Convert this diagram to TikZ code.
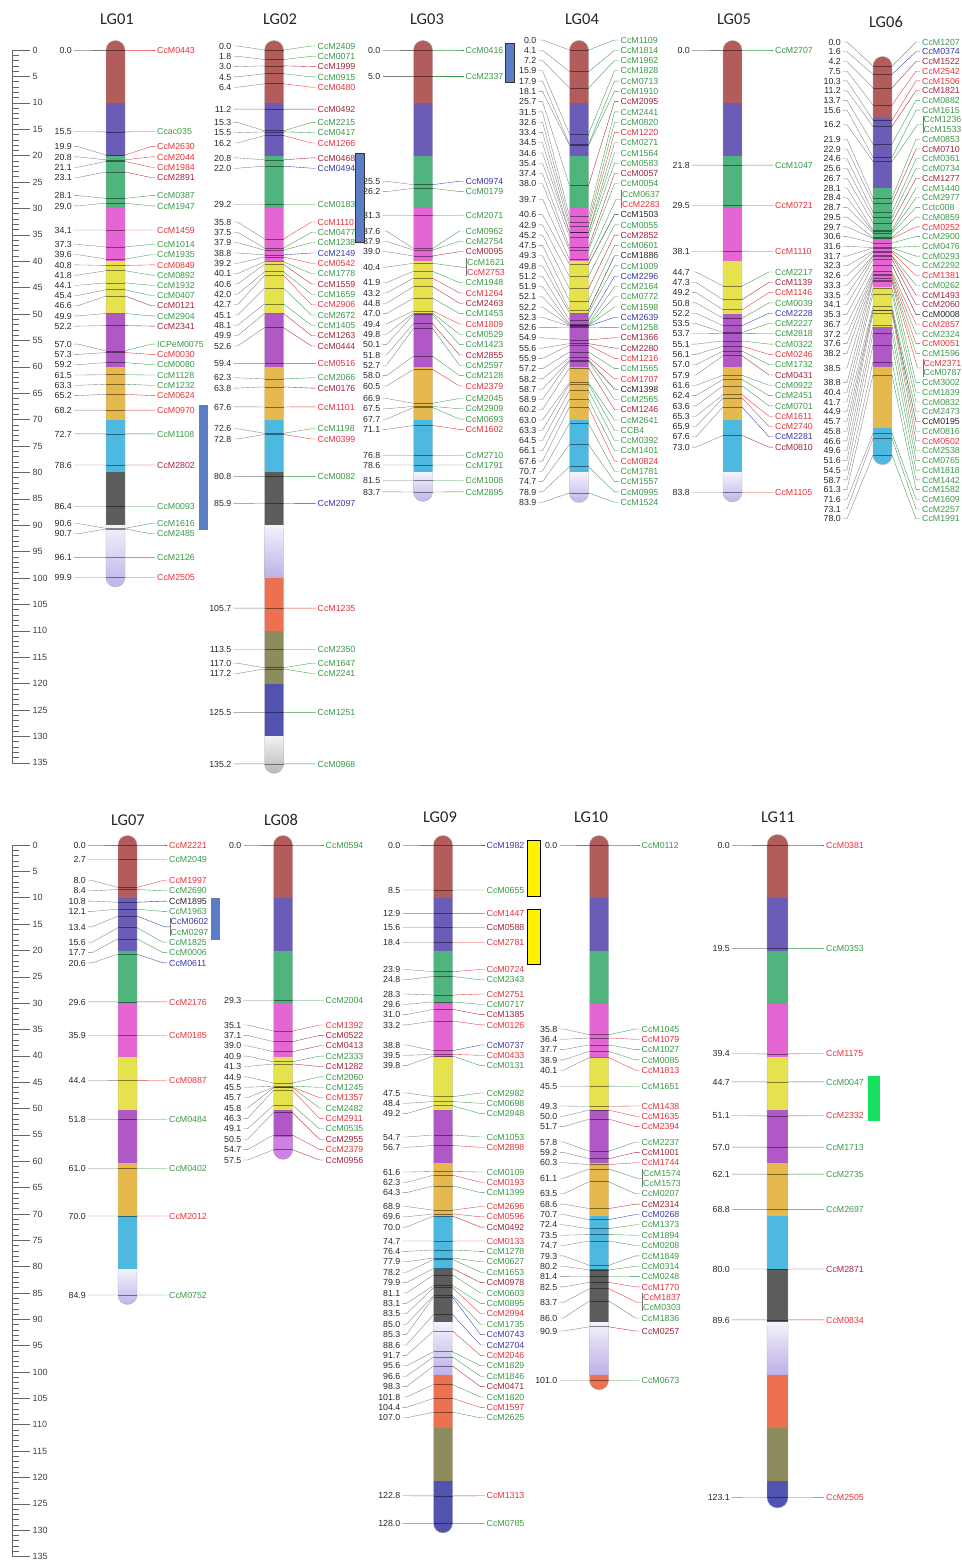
\documentclass[tikz,border=0pt]{standalone}
\usepackage{fontspec}
\setmainfont{Liberation Sans}
\newfontfamily\titlefam{Carlito}
\usetikzlibrary{calc}

% bin colours of the chromosome bars (one colour per 10 cM)
\definecolor{cbrn}{HTML}{B35C5C}
\definecolor{cplum}{HTML}{6B5CB8}
\definecolor{cgrn}{HTML}{4FB47E}
\definecolor{cpnk}{HTML}{E466D4}
\definecolor{cyel}{HTML}{E6E24E}
\definecolor{cvio}{HTML}{B058C6}
\definecolor{cgld}{HTML}{E5B94E}
\definecolor{ccyn}{HTML}{4EB9E0}
\definecolor{cdrk}{HTML}{5C5C5C}
\definecolor{clavt}{HTML}{F4F2FB}
\definecolor{clavb}{HTML}{BDB0EA}
\definecolor{corn}{HTML}{EC7150}
\definecolor{colv}{HTML}{8C8C5E}
\definecolor{cblu}{HTML}{5252B0}
\definecolor{clgt}{HTML}{F2F2F2}
\definecolor{clgb}{HTML}{B5B5B5}
\definecolor{clvio}{HTML}{CC82E0}
% marker name colours
\definecolor{mkg}{HTML}{3B9A47}
\definecolor{mkr}{HTML}{E8333A}
\definecolor{mkd}{HTML}{A3263C}
\definecolor{mkb}{HTML}{3A3AAA}
\definecolor{mkk}{HTML}{2A2A2A}
% side boxes
\definecolor{cbox}{HTML}{5B7DC6}
\definecolor{cgbox}{HTML}{18E060}

\newcommand\lblsize{\fontsize{8.8}{9}\selectfont}

\tikzset{
  num/.style={font=\lblsize, anchor=east, inner sep=0.5pt, text=black!85,
    text height=6.3pt, text depth=0pt},
  mkname/.style={font=\lblsize, anchor=west, inner sep=0.5pt,
    text height=6.3pt, text depth=0pt},
  lead/.style={line width=0.35pt},
  tick/.style={black, opacity=0.45, line width=0.6pt},
  bar edge/.style={black!30, line width=0.4pt},
  title/.style={font=\titlefam\fontsize{16.5}{18}\selectfont, text=black!85},
  ruler/.style={black!60, line width=0.5pt},
  rulenum/.style={font=\fontsize{9}{10}\selectfont, anchor=west, inner sep=0.5pt, text=black!75},
  brn/.style={fill=cbrn}, plum/.style={fill=cplum}, grn/.style={fill=cgrn},
  pnk/.style={fill=cpnk}, yel/.style={fill=cyel}, vio/.style={fill=cvio},
  gld/.style={fill=cgld}, cyn/.style={fill=ccyn}, drk/.style={fill=cdrk},
  lav/.style={top color=clavt, bottom color=clavb}, orn/.style={fill=corn},
  olv/.style={fill=colv}, blu/.style={fill=cblu},
  lgry/.style={top color=clgt, bottom color=clgb}, lvio/.style={fill=clvio},
}

% bar position of a marker
\newcommand\setby[1]{\pgfmathsetmacro\by{\yz+\kk*#1}}

% chromosome bar: #1 bin styles, #2 length in cM
\newcommand\chrom[2]{%
  \pgfmathsetmacro\ybot{\yz+\kk*#2}%
  \pgfmathtruncatemacro\jl{#2/10}%
  \begin{scope}
    \clip[rounded corners=\hw pt] (\cx-\hw,\yz-\hw) rectangle (\cx+\hw,\ybot+\hw);
    \foreach \sg [count=\jj from 0] in {#1} {
      \pgfmathsetmacro\ya{\jj==0 ? \yz-\hw-2 : \yz+\kk*10*\jj}
      \pgfmathsetmacro\yb{\jj==\jl ? \ybot+\hw+2 : \yz+\kk*10*(\jj+1)}
      \edef\tmp{\noexpand\path[\sg] (\cx-\hw-1,\ya) rectangle (\cx+\hw+1,\yb);}\tmp
    }
  \end{scope}
  \draw[bar edge, rounded corners=\hw pt] (\cx-\hw,\yz-\hw) rectangle (\cx+\hw,\ybot+\hw);
}

% one marker: position, label y, name, colour, index
\newcommand\drawmk[5]{%
  \setby{#1}%
  \coordinate (bl\gid-#5) at (\cx-\hw,\by);
  \coordinate (br\gid-#5) at (\cx+\hw,\by);
  \draw[tick] (bl\gid-#5) -- (br\gid-#5);
  \node[num] (n\gid-#5) at (\cx-\dl,#2) {#1};
  \node[mkname, text=mk#4] (m\gid-#5) at (\cx+\dr,#2) {#3};
  \draw[lead, black!50] ([xshift=1.5pt]n\gid-#5.east) -- ++(4,0) -- (bl\gid-#5);
  \draw[lead, mk#4] (br\gid-#5) -- ([xshift=-5.5pt]m\gid-#5.west) -- ([xshift=-1.5pt]m\gid-#5.west);
}

% two markers at one position: id, position, y1, name1, colour1, y2, name2, colour2
\newcommand\drawpair[8]{%
  \setby{#2}%
  \pgfmathsetmacro\ym{(#3+#6)/2}%
  \coordinate (bl\gid-#1) at (\cx-\hw,\by);
  \coordinate (br\gid-#1) at (\cx+\hw,\by);
  \coordinate (k\gid-#1) at (\cx+\dr+1.5,\ym);
  \draw[tick] (bl\gid-#1) -- (br\gid-#1);
  \node[num] (n\gid-#1) at (\cx-\dl,\ym) {#2};
  \node[mkname, text=mk#5] (m\gid-#1a) at (\cx+\dr+1.5,#3) {#4};
  \node[mkname, text=mk#8] (m\gid-#1b) at (\cx+\dr+1.5,#6) {#7};
  \draw[lead, black!50] ([xshift=1.5pt]n\gid-#1.east) -- ++(4,0) -- (bl\gid-#1);
  \draw[lead, mk#5] (br\gid-#1) -- ([xshift=-5.5pt]k\gid-#1) -- (k\gid-#1);
  \draw[lead, black!55] (m\gid-#1a.north west) -- (m\gid-#1b.south west);
}

\begin{document}
\begin{tikzpicture}[x=1pt,y=-1pt]
  \clip (0,0) rectangle (961,1565);
  \fill[white] (0,0) rectangle (961,1565);

  % scale bars, top and bottom row
  \foreach \yo/\ks/\r in {50/5.28/a, 845/5.27/b} {
    \draw[ruler] (12,\yo) -- (12,{\yo+\ks*135});
    \foreach \t in {0,...,135} {\draw[ruler] (12,{\yo+\ks*\t}) -- ++(7,0);}
    \foreach \t in {0,5,...,135} {
      \draw[ruler] (12,{\yo+\ks*\t}) -- ++(18,0);
      \node[rulenum] (r\r-\t) at (32,{\yo+\ks*\t}) {\t};
    }
  }

  % LG01
  \begin{scope}
    \def\gid{1}\def\cx{115.5}\def\yz{50}\def\kk{5.28}\def\hw{9.5}\def\dl{43}\def\dr{41}
    \chrom{brn,plum,grn,pnk,yel,vio,gld,cyn,drk,lav}{99.9}
    \foreach \p/\ly/\mk/\cl [count=\i] in {0.0/50/CcM0443/r, 15.5/131.8/Ccac035/g,
      19.9/146.6/CcM2630/r, 20.8/156.9/CcM2044/r, 21.1/167.2/CcM1984/r, 23.1/177.5/CcM2891/d,
      28.1/195.6/CcM0387/g, 29.0/205.9/CcM1947/g, 34.1/230/CcM1459/r, 37.3/244.5/CcM1014/g,
      39.6/254.7/CcM1935/g, 40.8/264.9/CcM0849/r, 41.8/275.1/CcM0892/g, 44.1/285.3/CcM1932/g,
      45.4/295.5/CcM0407/g, 46.6/305.7/CcM0121/d, 49.9/315.9/CcM2904/g, 52.2/326.1/CcM2341/d,
      57.0/344.1/ICPeM0075/g, 57.3/354.4/CcM0030/r, 59.2/364.7/CcM0080/g, 61.5/375/CcM1128/g,
      63.3/385.3/CcM1232/g, 65.2/395.6/CcM0624/r, 68.2/410.1/CcM0970/r, 72.7/433.9/CcM1108/g,
      78.6/465/CcM2802/d, 86.4/506.2/CcM0093/g, 90.6/523.5/CcM1616/g, 90.7/533.8/CcM2485/g,
      96.1/557.4/CcM2126/g, 99.9/577.5/CcM2505/r}
      {\edef\tmp{\noexpand\drawmk{\p}{\ly}{\mk}{\cl}{\i}}\tmp}
    \node[title] (t1) at (117,19) {LG01};
  \end{scope}

  % LG02
  \begin{scope}
    \def\gid{2}\def\cx{274}\def\yz{50}\def\kk{5.28}\def\hw{9.5}\def\dl{42}\def\dr{43}
    \chrom{brn,plum,grn,pnk,yel,vio,gld,cyn,drk,lav,orn,olv,blu,lgry}{135.2}
    \foreach \p/\ly/\mk/\cl [count=\i] in {0.0/46.0/CcM2409/g, 1.8/56.3/CcM0071/g,
      3.0/66.6/CcM1999/d, 4.5/76.9/CcM0915/g, 6.4/87.2/CcM0480/r, 11.2/109.1/CcM0492/d,
      15.3/122.4/CcM2215/g, 15.5/132.7/CcM0417/g, 16.2/143.0/CcM1266/r, 20.8/157.9/CcM0468/d,
      22.0/168.2/CcM0494/b, 29.2/204.2/CcM0183/g, 35.8/222/CcM1110/r, 37.5/232.3/CcM0477/g,
      37.9/242.7/CcM1238/g, 38.8/253/CcM2149/b, 39.2/263.3/CcM0542/r, 40.1/273.7/CcM1778/g,
      40.6/284/CcM1559/d, 42.0/294.3/CcM1659/g, 42.7/304.7/CcM2906/r, 45.1/315/CcM2672/g,
      48.1/325.3/CcM1405/g, 49.9/335.7/CcM1263/d, 52.6/346/CcM0444/d, 59.4/363.6/CcM0516/r,
      62.3/377.8/CcM2066/g, 63.8/388.1/CcM0176/d, 67.6/406.9/CcM1101/r, 72.6/428.7/CcM1198/g,
      72.8/439/CcM0399/r, 80.8/476.6/CcM0082/g, 85.9/503.6/CcM2097/b, 105.7/608.1/CcM1235/r,
      113.5/649.3/CcM2350/g, 117.0/663.2/CcM1647/g, 117.2/673.5/CcM2241/g,
      125.5/712.6/CcM1251/g, 135.2/763.9/CcM0968/g}
      {\edef\tmp{\noexpand\drawmk{\p}{\ly}{\mk}{\cl}{\i}}\tmp}
    \node[title] (t2) at (280,19) {LG02};
  \end{scope}

  % LG03
  \begin{scope}
    \def\gid{3}\def\cx{423}\def\yz{50}\def\kk{5.28}\def\hw{9.5}\def\dl{42}\def\dr{42}
    \chrom{brn,plum,grn,pnk,yel,vio,gld,cyn,lav}{83.7}
    \foreach \p/\ly/\mk/\cl [count=\i] in {0.0/50/CcM0416/g, 5.0/76.4/CcM2337/g,
      25.5/181.3/CcM0974/b, 26.2/191.6/CcM0179/g, 31.3/215.3/CcM2071/g, 37.6/231/CcM0962/g,
      37.9/241.3/CcM2754/g, 39.0/251.7/CcM0095/d, 41.9/282.7/CcM1948/g, 43.2/293/CcM1264/r,
      44.8/303.3/CcM2463/d, 47.0/313.6/CcM1453/g, 49.4/324/CcM1809/r, 49.8/334.3/CcM0529/g,
      50.1/344.6/CcM1423/g, 51.8/355/CcM2855/d, 52.7/365.3/CcM2597/g, 58.0/375.6/CcM2128/g,
      60.5/386/CcM2379/r, 66.9/398.5/CcM2045/g, 67.5/408.8/CcM2909/g, 67.7/419.1/CcM0693/g,
      71.1/429.4/CcM1602/r, 76.8/455.5/CcM2710/g, 78.6/465/CcM1791/g, 81.5/480.3/CcM1008/g,
      83.7/491.9/CcM2895/g}
      {\edef\tmp{\noexpand\drawmk{\p}{\ly}{\mk}{\cl}{\i}}\tmp}
    \drawpair{p}{40.4}{262.0}{CcM1621}{g}{272.3}{CcM2753}{r}
    \node[title] (t3) at (427,19) {LG03};
  \end{scope}

  % LG04
  \begin{scope}
    \def\gid{4}\def\cx{579}\def\yz{50}\def\kk{5.28}\def\hw{9.5}\def\dl{42}\def\dr{41}
    \chrom{brn,plum,grn,pnk,yel,vio,gld,cyn,lav}{83.9}
    \foreach \p/\ly/\mk/\cl [count=\i] in {0.0/40.0/CcM1109/g, 4.1/50.3/CcM1814/g,
      7.2/60.5/CcM1962/g, 15.9/70.8/CcM1828/g, 17.9/81.1/CcM0713/g, 18.1/91.4/CcM1910/g,
      25.7/101.6/CcM2095/d, 31.5/111.9/CcM2441/g, 32.6/122.2/CcM0820/g, 33.4/132.4/CcM1220/r,
      34.5/142.7/CcM0271/g, 34.6/153.0/CcM1564/g, 35.4/163.2/CcM0583/g, 37.4/173.5/CcM0057/d,
      38.0/183.8/CcM0054/g, 40.6/214.6/CcM1503/k, 42.9/224.9/CcM0055/g, 45.2/235.1/CcM2852/d,
      47.5/245.4/CcM0601/g, 49.3/255.7/CcM1886/k, 49.8/265.9/CcM1009/g, 51.2/276.2/CcM2296/b,
      51.9/286.5/CcM2164/g, 52.1/296.8/CcM0772/g, 52.2/307.0/CcM1598/g, 52.3/317.3/CcM2639/b,
      52.6/327.6/CcM1258/g, 54.9/337.8/CcM1366/d, 55.6/348.1/CcM2280/d, 55.9/358.4/CcM1216/r,
      57.2/368.6/CcM1565/g, 58.2/378.9/CcM1707/r, 58.7/389.2/CcM1398/k, 58.9/399.5/CcM2565/g,
      60.2/409.7/CcM1246/d, 63.0/420.0/CcM2641/g, 63.3/430.3/CCB4/g, 64.5/440.5/CcM0392/g,
      66.1/450.8/CcM1401/g, 67.6/461.1/CcM0824/r, 70.7/471.3/CcM1781/g, 74.7/481.6/CcM1557/g,
      78.9/491.9/CcM0995/g, 83.9/502.2/CcM1524/g}
      {\edef\tmp{\noexpand\drawmk{\p}{\ly}{\mk}{\cl}{\i}}\tmp}
    \drawpair{p}{39.7}{194.1}{CcM0637}{g}{204.3}{CcM2283}{r}
    \node[title] (t4) at (582,19) {LG04};
  \end{scope}

  % LG05
  \begin{scope}
    \def\gid{5}\def\cx{732.5}\def\yz{50}\def\kk{5.28}\def\hw{9.5}\def\dl{42}\def\dr{42}
    \chrom{brn,plum,grn,pnk,yel,vio,gld,cyn,lav}{83.8}
    \foreach \p/\ly/\mk/\cl [count=\i] in {0.0/50/CcM2707/g, 21.8/165.1/CcM1047/g,
      29.5/205.8/CcM0721/r, 38.1/251.2/CcM1110/r, 44.7/272.0/CcM2217/g, 47.3/282.3/CcM1139/d,
      49.2/292.6/CcM1146/r, 50.8/302.9/CcM0039/g, 52.2/313.2/CcM2228/b, 53.5/323.5/CcM2227/g,
      53.7/333.8/CcM2818/g, 55.1/344.1/CcM0322/g, 56.1/354.4/CcM0246/r, 57.0/364.7/CcM1732/g,
      57.9/375.0/CcM0431/d, 61.6/385.3/CcM0922/g, 62.4/395.6/CcM2451/g, 63.6/405.9/CcM0701/g,
      65.3/416.2/CcM1611/r, 65.9/426.5/CcM2740/r, 67.6/436.8/CcM2281/b, 73.0/447.1/CcM0810/d,
      83.8/492.5/CcM1105/r}
      {\edef\tmp{\noexpand\drawmk{\p}{\ly}{\mk}{\cl}{\i}}\tmp}
    \node[title] (t5) at (734,19) {LG05};
  \end{scope}

  % LG06 (bins are not evenly spaced on this bar)
  \begin{scope}
    \def\gid{6}\def\cx{882.5}\def\hw{9.5}\def\dl{41}\def\dr{39}
    \def\sixb{{66,118,188,240,287,327,367,428,462}}
    \def\setby#1{\pgfmathtruncatemacro\bi{#1/10}%
      \pgfmathsetmacro\by{\sixb[\bi]+(#1-10*\bi)/10*(\sixb[\bi+1]-\sixb[\bi])}}
    \begin{scope}
      \clip[rounded corners=9.5pt] (873,56.5) rectangle (892,464.7);
      \foreach \ya/\yb/\sg in {50/118/brn, 118/188/plum, 188/240/grn, 240/287/pnk,
        287/327/yel, 327/367/vio, 367/428/gld, 428/470/cyn}
        {\edef\tmp{\noexpand\path[\sg] (872,\ya) rectangle (893,\yb);}\tmp}
    \end{scope}
    \draw[bar edge, rounded corners=9.5pt] (873,56.5) rectangle (892,464.7);
    \foreach \p/\ly/\mk/\cl [count=\i] in {0.0/42.0/CcM1207/g, 1.6/51.7/CcM0374/b,
      4.2/61.5/CcM1522/d, 7.5/71.2/CcM2542/r, 10.3/80.9/CcM1506/r, 11.2/90.7/CcM1821/d,
      13.7/100.4/CcM0882/g, 15.6/110.1/CcM1615/g, 21.9/139.3/CcM0853/g, 22.9/149.0/CcM0710/d,
      24.6/158.8/CcM0361/g, 25.6/168.5/CcM0734/g, 26.7/178.2/CcM1277/d, 28.1/188.0/CcM1440/g,
      28.4/197.7/CcM2977/g, 28.7/207.4/Cctc008/g, 29.5/217.1/CcM0859/g, 29.7/226.9/CcM0252/r,
      30.6/236.6/CcM2900/g, 31.6/246.3/CcM0476/g, 31.7/256.1/CcM0293/g, 32.3/265.8/CcM2292/g,
      32.6/275.5/CcM1381/r, 33.3/285.3/CcM0262/g, 33.5/295.0/CcM1493/d, 34.1/304.7/CcM2060/d,
      35.3/314.4/CcM0008/k, 36.7/324.2/CcM2857/r, 37.2/333.9/CcM2324/g, 37.6/343.6/CcM0051/r,
      38.2/353.4/CcM1596/g, 38.8/382.6/CcM3002/g, 40.4/392.3/CcM1839/g, 41.7/402.0/CcM0832/g,
      44.9/411.7/CcM2473/g, 45.7/421.5/CcM0195/k, 45.8/431.2/CcM0816/g, 46.6/440.9/CcM0502/r,
      49.6/450.7/CcM2538/g, 51.6/460.4/CcM0765/g, 54.5/470.1/CcM1818/g, 58.7/479.9/CcM1442/g,
      61.3/489.6/CcM1582/g, 71.6/499.3/CcM1609/g, 73.1/509.0/CcM2257/g, 78.0/518.8/CcM1991/g}
      {\edef\tmp{\noexpand\drawmk{\p}{\ly}{\mk}{\cl}{\i}}\tmp}
    \drawpair{p}{16.2}{119.8}{CcM1236}{g}{129.6}{CcM1533}{g}
    \drawpair{q}{38.5}{363.1}{CcM2371}{r}{372.8}{CcM0787}{g}
    \node[title] (t6) at (886,22) {LG06};
  \end{scope}

  % LG07
  \begin{scope}
    \def\gid{7}\def\cx{127.5}\def\yz{845}\def\kk{5.3}\def\hw{9.5}\def\dl{41}\def\dr{41}
    \chrom{brn,plum,grn,pnk,yel,vio,gld,cyn,lav}{84.9}
    \foreach \p/\ly/\mk/\cl [count=\i] in {0.0/845/CcM2221/r, 2.7/859.3/CcM2049/g,
      8.0/880.5/CcM1997/r, 8.4/890.8/CcM2690/g, 10.8/901.1/CcM1895/k, 12.1/911.4/CcM1963/g,
      15.6/942.3/CcM1825/g, 17.7/952.6/CcM0006/g, 20.6/962.9/CcM0611/b, 29.6/1001.9/CcM2176/r,
      35.9/1035.3/CcM0185/r, 44.4/1080.3/CcM0887/r, 51.8/1119.5/CcM0484/g,
      61.0/1168.3/CcM0402/g, 70.0/1216/CcM2012/r, 84.9/1295/CcM0752/g}
      {\edef\tmp{\noexpand\drawmk{\p}{\ly}{\mk}{\cl}{\i}}\tmp}
    \drawpair{p}{13.4}{921.7}{CcM0602}{b}{932.0}{CcM0297}{g}
    \node[title] (t7) at (128,820) {LG07};
  \end{scope}

  % LG08
  \begin{scope}
    \def\gid{8}\def\cx{283}\def\yz{845}\def\kk{5.3}\def\hw{9.5}\def\dl{41}\def\dr{42}
    \chrom{brn,plum,grn,pnk,yel,vio}{57.5}
    \begin{scope}
      \clip[rounded corners=9.5pt] (273.5,835.5) rectangle (292.5,1159.3);
      \path[lvio] (273,1136.5) rectangle (293,1162);
    \end{scope}
    \foreach \p/\ly/\mk/\cl [count=\i] in {0.0/845/CcM0594/g, 29.3/1000.3/CcM2004/g,
      35.1/1025/CcM1392/r, 37.1/1035.4/CcM0522/d, 39.0/1045.8/CcM0413/d, 40.9/1056.1/CcM2333/g,
      41.3/1066.5/CcM1282/d, 44.9/1076.9/CcM2060/g, 45.5/1087.3/CcM1245/g,
      45.7/1097.7/CcM1357/r, 45.8/1108/CcM2482/g, 46.3/1118.4/CcM2911/r, 49.1/1128.8/CcM0535/g,
      50.5/1139.2/CcM2955/d, 54.7/1149.6/CcM2379/r, 57.5/1160/CcM0956/d}
      {\edef\tmp{\noexpand\drawmk{\p}{\ly}{\mk}{\cl}{\i}}\tmp}
    \node[title] (t8) at (281,820) {LG08};
  \end{scope}

  % LG09
  \begin{scope}
    \def\gid{9}\def\cx{443}\def\yz{845}\def\kk{5.3}\def\hw{9.5}\def\dl{42}\def\dr{43}
    \chrom{brn,plum,grn,pnk,yel,vio,gld,cyn,drk,lav,orn,olv,blu}{128.0}
    \foreach \p/\ly/\mk/\cl [count=\i] in {0.0/845/CcM1982/b, 8.5/890/CcM0655/g,
      12.9/913.4/CcM1447/r, 15.6/927.7/CcM0588/d, 18.4/942.5/CcM2781/r, 23.9/969.5/CcM0724/r,
      24.8/979.8/CcM2343/g, 28.3/994/CcM2751/r, 29.6/1004.3/CcM0717/g, 31.0/1014.6/CcM1385/d,
      33.2/1024.9/CcM0126/r, 38.8/1045/CcM0737/b, 39.5/1055.3/CcM0433/r, 39.8/1065.6/CcM0131/g,
      47.5/1093/CcM2982/g, 48.4/1103.3/CcM0698/g, 49.2/1113.6/CcM2948/g, 54.7/1137/CcM1053/g,
      56.7/1147.3/CcM2898/r, 61.6/1172/CcM0109/g, 62.3/1182.3/CcM0193/r, 64.3/1192.6/CcM1399/g,
      68.9/1206.5/CcM2696/r, 69.6/1216.8/CcM0596/r, 70.0/1227.1/CcM0492/d,
      74.7/1241/CcM0133/r, 76.4/1251.4/CcM1278/g, 77.9/1261.8/CcM0627/g, 78.2/1272.2/CcM1653/g,
      79.9/1282.6/CcM0978/d, 81.1/1293/CcM0603/g, 83.1/1303.4/CcM0895/g, 83.5/1313.8/CcM2994/r,
      85.0/1324.2/CcM1735/g, 85.3/1334.6/CcM0743/b, 88.6/1345/CcM2704/b, 91.7/1355.4/CcM2046/r,
      95.6/1365.8/CcM1829/g, 96.6/1376.2/CcM1846/g, 98.3/1386.6/CcM0471/d,
      101.8/1397/CcM1820/g, 104.4/1407.4/CcM1597/r, 107.0/1417.8/CcM2625/g,
      122.8/1495.8/CcM1313/r, 128.0/1523.4/CcM0785/g}
      {\edef\tmp{\noexpand\drawmk{\p}{\ly}{\mk}{\cl}{\i}}\tmp}
    \node[title] (t9) at (440,817) {LG09};
  \end{scope}

  % LG10
  \begin{scope}
    \def\gid{10}\def\cx{599}\def\yz{845}\def\kk{5.3}\def\hw{9.5}\def\dl{41}\def\dr{42}
    \chrom{brn,plum,grn,pnk,yel,vio,gld,cyn,drk,lav,orn}{101.0}
    \foreach \p/\ly/\mk/\cl [count=\i] in {0.0/845/CcM0112/g, 35.8/1029/CcM1045/g,
      36.4/1039.3/CcM1079/r, 37.7/1049.6/CcM1027/g, 38.9/1059.9/CcM0085/g,
      40.1/1070.2/CcM1813/r, 45.5/1086.2/CcM1651/g, 49.3/1106/CcM1438/r, 50.0/1116.3/CcM1635/r,
      51.7/1126.6/CcM2394/r, 57.8/1142/CcM2237/g, 59.2/1152.4/CcM1001/d, 60.3/1162.7/CcM1744/r,
      63.5/1193.8/CcM0207/g, 68.6/1204.1/CcM2314/d, 70.7/1214.5/CcM0268/b,
      72.4/1224.8/CcM1373/g, 73.5/1235.2/CcM1894/g, 74.7/1245.5/CcM0208/g,
      79.3/1255.9/CcM1849/g, 80.2/1266.2/CcM0314/g, 81.4/1276.6/CcM0248/g,
      82.5/1286.9/CcM1770/r, 86.0/1318/CcM1836/g, 90.9/1331/CcM0257/d, 101.0/1380.3/CcM0673/g}
      {\edef\tmp{\noexpand\drawmk{\p}{\ly}{\mk}{\cl}{\i}}\tmp}
    \drawpair{p}{61.1}{1173.1}{CcM1574}{g}{1183.4}{CcM1573}{g}
    \drawpair{q}{83.7}{1297.3}{CcM1837}{r}{1307.6}{CcM0303}{g}
    \node[title] (t10) at (591,817) {LG10};
  \end{scope}

  % LG11
  \begin{scope}
    \def\gid{11}\def\cx{777.5}\def\yz{845}\def\kk{5.3}\def\hw{10.5}\def\dl{47}\def\dr{48}
    \chrom{brn,plum,grn,pnk,yel,vio,gld,cyn,drk,lav,orn,olv,blu}{123.1}
    \foreach \p/\ly/\mk/\cl [count=\i] in {0.0/845/CcM0381/r, 19.5/948.4/CcM0353/g,
      39.4/1053.8/CcM1175/r, 44.7/1081.9/CcM0047/g, 51.1/1115.8/CcM2332/r,
      57.0/1147.1/CcM1713/g, 62.1/1174.1/CcM2735/g, 68.8/1209.6/CcM2697/g,
      80.0/1269/CcM2871/d, 89.6/1319.9/CcM0834/r, 123.1/1497.4/CcM2505/r}
      {\edef\tmp{\noexpand\drawmk{\p}{\ly}{\mk}{\cl}{\i}}\tmp}
    \node[title] (t11) at (778,817) {LG11};
  \end{scope}

  % side boxes
  \fill[cbox] (199,405) rectangle (208,530);
  \draw[fill=cbox, draw=black!80, line width=0.6pt] (355,153) rectangle (364,242);
  \draw[fill=cbox, draw=black!80, line width=0.6pt] (505,43) rectangle (514,82);
  \fill[cbox] (211,898) rectangle (220,940);
  \draw[fill=yellow, draw=black, line width=0.8pt] (527,840) rectangle (540,896);
  \draw[fill=yellow, draw=black, line width=0.8pt] (527,909) rectangle (540,964);
  \fill[cgbox] (868,1076) rectangle (880,1121);
\end{tikzpicture}
\end{document}
